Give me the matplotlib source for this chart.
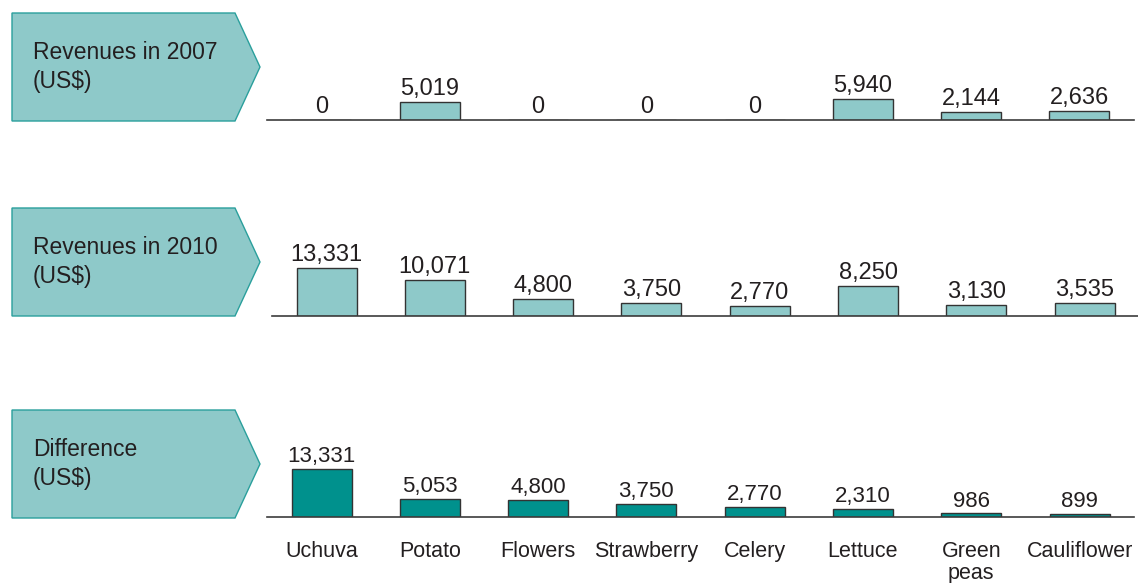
"""
Crop revenues 2007 vs 2010, three stacked bar rows with arrow labels.
"""
import numpy as np
import matplotlib.pyplot as plt
from matplotlib.patches import Polygon

plt.rcParams['font.family'] = ['Liberation Sans', 'DejaVu Sans']

crops = ['Uchuva', 'Potato', 'Flowers', 'Strawberry', 'Celery', 'Lettuce', 'Green\npeas', 'Cauliflower']
rev_2007 = [0, 5019, 0, 0, 0, 5940, 2144, 2636]
rev_2010 = [13331, 10071, 4800, 3750, 2770, 8250, 3130, 3535]
difference = [13331, 5053, 4800, 3750, 2770, 2310, 986, 899]
row_titles = ['Revenues in 2007\n(US$)', 'Revenues in 2010\n(US$)', 'Difference\n(US$)']

W, H = 1138, 583
LIGHT = '#8ec9c9'
DARK = '#00918d'
TEXT = '#231f20'
STEP = 108.3  # px between bar centres


def px_rect(left, top, right, bottom):
    """pixel box -> figure fraction [l, b, w, h]"""
    return [left / W, 1 - bottom / H, (right - left) / W, (bottom - top) / H]


def draw_label_box(fig, top, title):
    """pentagon arrow shaped label on the left"""
    pts = [(12, top), (235, top), (260, top + 54), (235, top + 108), (12, top + 108)]
    pts = [(x / W, 1 - y / H) for x, y in pts]
    fig.patches.append(Polygon(pts, closed=True, transform=fig.transFigure,
                               facecolor=LIGHT, edgecolor='#2a9f9c', linewidth=1.0))
    fig.text(33 / W, 1 - (top + 54) / H, title, fontsize=16.5, color=TEXT,
             va='center', ha='left', linespacing=1.3)


def draw_row(fig, baseline, values, color, value_size, left, right, first_centre):
    ax = fig.add_axes(px_rect(left, baseline - 95, right, baseline))
    x = np.arange(len(values))
    ax.bar(x, values, width=60 / STEP, color=color, edgecolor='#333333', linewidth=1.0)
    for xi, v in zip(x, values):
        ax.annotate(f'{v:,}', (xi, v), xytext=(0, 5), textcoords='offset points',
                    ha='center', va='baseline', fontsize=value_size, color=TEXT)
    ax.set_xlim((left - first_centre) / STEP, (right - first_centre) / STEP)
    ax.set_ylim(0, 95 / 0.0036)
    for s in ['top', 'left', 'right']:
        ax.spines[s].set_visible(False)
    ax.spines['bottom'].set_color('#3c3c3c')
    ax.spines['bottom'].set_linewidth(1.2)
    ax.set_yticks([])
    ax.set_xticks(x)
    ax.tick_params(axis='x', length=0)
    ax.patch.set_alpha(0)
    return ax


def main():
    fig = plt.figure(figsize=(W / 100, H / 100), dpi=100)

    tops = [13, 208, 410]
    for top, title in zip(tops, row_titles):
        draw_label_box(fig, top, title)

    ax1 = draw_row(fig, 120, rev_2007, LIGHT, 17, 267, 1134, 321.3)
    ax2 = draw_row(fig, 316, rev_2010, LIGHT, 17, 272, 1138, 326.5)
    ax3 = draw_row(fig, 517, difference, DARK, 16, 267, 1134, 321.5)

    ax1.set_xticklabels([])
    ax2.set_xticklabels([])
    ax3.set_xticklabels(crops, fontsize=15.5, color=TEXT, linespacing=1.1)
    ax3.tick_params(axis='x', pad=17)

    fig.savefig('out.png', dpi=100)


if __name__ == '__main__':
    main()
